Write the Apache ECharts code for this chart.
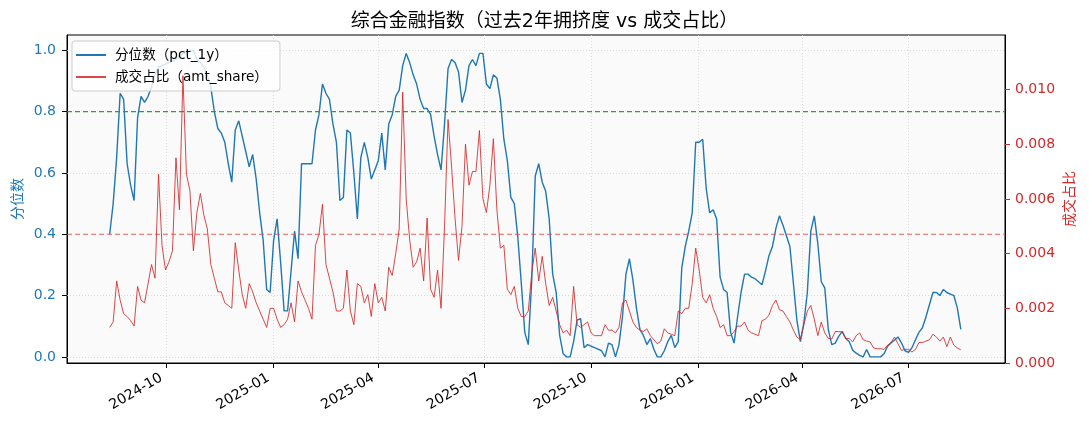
<!DOCTYPE html>
<html>
<head>
<meta charset="utf-8">
<title>综合金融指数</title>
<script src="https://cdn.jsdelivr.net/npm/echarts@6/dist/echarts.min.js"></script>
<style>
  html, body { margin: 0; padding: 0; background: #fff; }
  #chart { width: 1089px; height: 429px; }
</style>
</head>
<body>
<div id="chart"></div>
<script>
// 数据：起始日期 + 步长（天），两条序列按同一日期轴对齐
var startDate = "2024-08-13";
var stepDays = 3;

// 分位数（pct_1y）
var pct1y = [
  0.40, 0.50, 0.65, 0.86, 0.84, 0.63, 0.56, 0.51, 0.78, 0.85,
  0.83, 0.85, 0.88, 0.92, 0.945, 0.95, 0.955, 0.96, 0.965, 0.97,
  0.98, 0.99, 0.99, 1.0, 1.0, 0.97, 0.96, 0.945, 0.92, 0.88,
  0.80, 0.745, 0.73, 0.70, 0.63, 0.57, 0.74, 0.77, 0.72, 0.67,
  0.62, 0.66, 0.58, 0.47, 0.38, 0.22, 0.21, 0.38, 0.45, 0.31,
  0.15, 0.15, 0.28, 0.41, 0.32, 0.63, 0.63, 0.63, 0.63, 0.74,
  0.79, 0.89, 0.86, 0.84, 0.76, 0.70, 0.51, 0.52, 0.74, 0.73,
  0.60, 0.45, 0.65, 0.70, 0.65, 0.58, 0.61, 0.64, 0.73, 0.61,
  0.76, 0.79, 0.85, 0.87, 0.95, 0.99, 0.96, 0.92, 0.89, 0.84,
  0.81, 0.81, 0.79, 0.72, 0.66, 0.61, 0.76, 0.94, 0.97, 0.96,
  0.93, 0.83, 0.87, 0.95, 0.97, 0.95, 0.99, 0.99, 0.89, 0.875,
  0.92, 0.91, 0.84, 0.71, 0.64, 0.52, 0.50, 0.39, 0.24, 0.08,
  0.04, 0.25, 0.59, 0.63, 0.57, 0.54, 0.45, 0.27, 0.21, 0.07,
  0.01, 0.0, 0.0, 0.05, 0.12, 0.125, 0.03, 0.04, 0.035, 0.03,
  0.025, 0.02, 0.0, 0.045, 0.04, 0.0, 0.04, 0.13, 0.27, 0.32,
  0.25, 0.16, 0.09, 0.07, 0.04, 0.06, 0.025, 0.0, 0.0, 0.02,
  0.05, 0.07, 0.03, 0.05, 0.29, 0.36, 0.41, 0.47, 0.70, 0.70,
  0.71, 0.55, 0.47, 0.48, 0.45, 0.26, 0.22, 0.21, 0.08, 0.045,
  0.13, 0.21, 0.27, 0.27, 0.26, 0.255, 0.245, 0.235, 0.28, 0.33,
  0.36, 0.42, 0.46, 0.43, 0.395, 0.36, 0.24, 0.12, 0.05, 0.11,
  0.21, 0.41, 0.46, 0.37, 0.245, 0.225, 0.09, 0.04, 0.045, 0.067,
  0.083, 0.06, 0.05, 0.022, 0.012, 0.005, 0.0, 0.024, 0.0, 0.0,
  0.0, 0.0, 0.01, 0.035, 0.045, 0.055, 0.065, 0.045, 0.02, 0.015,
  0.03, 0.056, 0.08, 0.095, 0.13, 0.17, 0.21, 0.21, 0.20, 0.22,
  0.21, 0.205, 0.20, 0.16, 0.09
];

// 成交占比（amt_share）
var amtShare = [
  0.0013, 0.0015, 0.0030, 0.0023, 0.0018, 0.0017, 0.00155, 0.00135, 0.0028, 0.0023,
  0.0022, 0.0029, 0.0036, 0.0031, 0.0069, 0.0043, 0.0034, 0.0037, 0.0041, 0.0075,
  0.0056, 0.0105, 0.0069, 0.0063, 0.0041, 0.0055, 0.0062, 0.0054, 0.0049, 0.0036,
  0.0031, 0.0026, 0.0026, 0.0022, 0.0021, 0.0020, 0.0044, 0.0034, 0.0025, 0.0020,
  0.0029, 0.0026, 0.0022, 0.0019, 0.0016, 0.0013, 0.0020, 0.0020, 0.0016, 0.0013,
  0.0014, 0.0016, 0.0022, 0.0015, 0.0030, 0.0026, 0.0023, 0.0020, 0.0016, 0.0043,
  0.0047, 0.0058, 0.0036, 0.0031, 0.0026, 0.0019, 0.0019, 0.0020, 0.0034, 0.0019,
  0.0014, 0.0029, 0.0028, 0.0022, 0.0025, 0.0017, 0.0029, 0.0022, 0.0024, 0.0019,
  0.0035, 0.0032, 0.0040, 0.0049, 0.0099, 0.0060, 0.0045, 0.0035, 0.0037, 0.0042,
  0.0030, 0.0053, 0.0027, 0.0024, 0.0034, 0.0020, 0.0050, 0.0089, 0.0072, 0.0053,
  0.00375, 0.0050, 0.0080, 0.0065, 0.0070, 0.0070, 0.0085, 0.0060, 0.0055, 0.0065,
  0.0082, 0.0056, 0.0042, 0.0043, 0.0027, 0.0025, 0.0028, 0.0020, 0.0017, 0.0017,
  0.0019, 0.0033, 0.0042, 0.0030, 0.0039, 0.0029, 0.0021, 0.0024, 0.0019, 0.0014,
  0.0011, 0.0012, 0.0010, 0.0028, 0.0014, 0.0013, 0.0014, 0.0015, 0.0011, 0.0010,
  0.0010, 0.0010, 0.0014, 0.0012, 0.0012, 0.0011, 0.0013, 0.0022, 0.0023, 0.0019,
  0.0015, 0.0013, 0.0012, 0.00115, 0.00125, 0.0010, 0.00085, 0.0007, 0.0008, 0.00125,
  0.0011, 0.00105, 0.0010, 0.0019, 0.0018, 0.0020, 0.0020, 0.0029, 0.0042, 0.0034,
  0.0024, 0.0022, 0.0025, 0.0020, 0.0017, 0.0013, 0.0014, 0.0010, 0.0010, 0.00115,
  0.00135, 0.00135, 0.0015, 0.0012, 0.0011, 0.00105, 0.0010, 0.00155, 0.0016, 0.00175,
  0.0021, 0.0023, 0.00195, 0.0019, 0.0017, 0.0015, 0.0012, 0.00095, 0.00085, 0.0014,
  0.0019, 0.0021, 0.0016, 0.0010, 0.0015, 0.0011, 0.0009, 0.00088, 0.00115, 0.00115,
  0.00113, 0.0009, 0.0009, 0.00077, 0.0010, 0.0011, 0.00085, 0.0008, 0.00077, 0.00055,
  0.00052, 0.00052, 0.0005, 0.00065, 0.00075, 0.00095, 0.0007, 0.00046, 0.0005, 0.0005,
  0.0004, 0.0005, 0.00075, 0.00075, 0.0008, 0.00085, 0.00105, 0.00095, 0.0008, 0.00095,
  0.0006, 0.00095, 0.00065, 0.00055, 0.00048
];

var xTicks = ["2024-10-01", "2025-01-01", "2025-04-01", "2025-07-01",
              "2025-10-01", "2026-01-01", "2026-04-01", "2026-07-01"];
var pctTicks = [0, 0.2, 0.4, 0.6, 0.8, 1.0];
var shareTicks = [0, 0.002, 0.004, 0.006, 0.008, 0.010];
var highLevel = 0.8;
var lowLevel = 0.4;

(function () {
  function pad(n) { return n < 10 ? "0" + n : "" + n; }
  var DAY = 86400000;

  // 日期（UTC 毫秒）
  var t0 = Date.parse(startDate);
  var times = pct1y.map(function (v, i) { return t0 + i * stepDays * DAY; });
  var xTickTimes = xTicks.map(function (s) { return Date.parse(s); });
  var xMin = Date.parse("2024-07-07T07:00:00Z");
  var xMax = Date.parse("2026-09-22");

  var blueData = times.map(function (t, i) { return [t, pct1y[i]]; });
  var redData = times.map(function (t, i) { return [t, amtShare[i]]; });

  // 网格线：参考线所在位置不再画点线
  var gridMarks = xTickTimes.map(function (t) { return { xAxis: t }; })
    .concat(pctTicks.filter(function (v) { return v !== highLevel && v !== lowLevel; })
      .map(function (v) { return { yAxis: v }; }));

  var fontFamily = '"DejaVu Sans", "Noto Sans CJK SC", sans-serif';

  // 水平参考线：两端点的虚线系列
  function refLine(value, color) {
    return {
      type: "line",
      yAxisIndex: 0,
      data: [[xMin, value], [xMax, value]],
      z: 3,
      silent: true,
      showSymbol: false,
      symbol: "none",
      itemStyle: { color: color },
      lineStyle: { color: color, type: [5, 3], width: 1.1, opacity: 1 }
    };
  }

  var myChart = echarts.init(document.getElementById("chart"));
  var option = {
    animation: false,
    backgroundColor: "#ffffff",
    textStyle: { fontFamily: fontFamily },
    title: {
      text: "综合金融指数（过去2年拥挤度 vs 成交占比）",
      left: "center",
      top: 8,
      textStyle: { fontSize: 19, fontWeight: "normal", color: "#000", fontFamily: fontFamily }
    },
    legend: {
      orient: "vertical",
      left: 72,
      top: 41,
      z: 4,
      itemWidth: 30,
      itemHeight: 2,
      itemGap: 6,
      padding: [6, 12, 6, 4],
      backgroundColor: "rgba(255,255,255,0.8)",
      borderColor: "#cccccc",
      borderWidth: 1,
      borderRadius: 3,
      textStyle: { fontSize: 13.6, color: "#000", lineHeight: 16, padding: [0, 0, 0, 4] },
      data: [
        { name: "分位数（pct_1y）", icon: "rect", itemStyle: { color: "#1f77b4" } },
        { name: "成交占比（amt_share）", icon: "rect", itemStyle: { color: "rgba(214,39,40,0.85)" } }
      ]
    },
    grid: {
      left: 67,
      right: 84,
      top: 35,
      bottom: 66,
      show: true,
      backgroundColor: "#fafafa",
      borderColor: "#000",
      borderWidth: 1,
      containLabel: false,
      outerBoundsMode: "none"
    },
    xAxis: {
      type: "value",
      min: xMin,
      max: xMax,
      axisLine: { show: true, onZero: false, lineStyle: { color: "#000", width: 1 } },
      axisTick: { show: true, customValues: xTickTimes, length: 5, lineStyle: { color: "#000" } },
      axisLabel: {
        customValues: xTickTimes,
        rotate: 30,
        margin: 11,
        padding: [0, 6, 0, 0],
        fontSize: 14,
        color: "#000",
        formatter: function (v) {
          var d = new Date(v);
          return d.getUTCFullYear() + "-" + pad(d.getUTCMonth() + 1);
        }
      },
      splitLine: { show: false }
    },
    yAxis: [
      {
        type: "value",
        position: "left",
        min: -0.02,
        max: 1.05,
        name: "分位数",
        nameLocation: "middle",
        nameRotate: 90,
        nameGap: 42,
        nameMoveOverlap: false,
        nameTextStyle: { color: "#1f77b4", fontSize: 14 },
        axisLine: { show: true, onZero: false, lineStyle: { color: "#000" } },
        axisTick: { show: true, customValues: pctTicks, length: 5, lineStyle: { color: "#000" } },
        axisLabel: {
          customValues: pctTicks,
          color: "#1f77b4",
          fontSize: 14,
          margin: 11,
          formatter: function (v) { return v.toFixed(1); }
        },
        splitLine: { show: false }
      },
      {
        type: "value",
        position: "right",
        min: 0,
        max: 0.01199,
        name: "成交占比",
        nameLocation: "middle",
        nameRotate: 90,
        nameGap: 58,
        nameMoveOverlap: false,
        nameTextStyle: { color: "#d62728", fontSize: 14 },
        axisLine: { show: true, onZero: false, lineStyle: { color: "#000" } },
        axisTick: { show: true, customValues: shareTicks, length: 5, lineStyle: { color: "#d62728" } },
        axisLabel: {
          customValues: shareTicks,
          color: "#d62728",
          fontSize: 14,
          margin: 10,
          formatter: function (v) { return v.toFixed(3); }
        },
        splitLine: { show: false }
      }
    ],
    series: [
      {
        // 网格线（压在所有线条下面）
        type: "line",
        yAxisIndex: 0,
        data: [],
        z: 1,
        silent: true,
        itemStyle: { color: "#d3d3d3" },
        markLine: {
          z: 1,
          silent: true,
          symbol: "none",
          label: { show: false },
          lineStyle: { color: "#d3d3d3", type: [1, 2], width: 0.8 },
          data: gridMarks
        }
      },
      refLine(highLevel, "#2ca02c"),
      refLine(lowLevel, "rgba(235,70,70,0.85)"),
      {
        name: "分位数（pct_1y）",
        type: "line",
        yAxisIndex: 0,
        data: blueData,
        color: "#1f77b4",
        showSymbol: false,
        symbol: "none",
        z: 2,
        lineStyle: { color: "#1f77b4", width: 1.4 }
      },
      {
        name: "成交占比（amt_share）",
        type: "line",
        yAxisIndex: 1,
        data: redData,
        color: "rgba(214,39,40,0.85)",
        showSymbol: false,
        symbol: "none",
        z: 5,
        lineStyle: { color: "rgba(214,39,40,0.85)", width: 1 }
      }
    ]
  };
  myChart.setOption(option);
  window.addEventListener("resize", function () {
    myChart.resize();
  });
})();
</script>
</body>
</html>
